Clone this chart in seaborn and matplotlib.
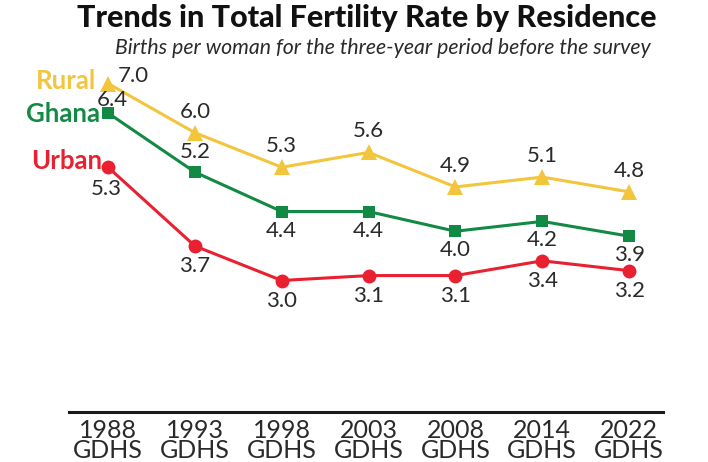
"""Trends in total fertility rate by residence."""

import matplotlib
matplotlib.use('Agg')
import matplotlib.pyplot as plt
import seaborn as sns
import numpy as np
import pandas as pd

surveys = ['1988\nGDHS', '1993\nGDHS', '1998\nGDHS', '2003\nGDHS',
           '2008\nGDHS', '2014\nGDHS', '2022\nGDHS']
rural = [7.0, 6.0, 5.3, 5.6, 4.9, 5.1, 4.8]
ghana = [6.4, 5.2, 4.4, 4.4, 4.0, 4.2, 3.9]
urban = [5.3, 3.7, 3.0, 3.1, 3.1, 3.4, 3.2]

series_names = ['Rural', 'Ghana', 'Urban']
series_values = [rural, ghana, urban]

COLORS = {'Rural': '#F2C53D', 'Ghana': '#138A43', 'Urban': '#E8202F'}
MARKERS = {'Rural': '^', 'Ghana': 's', 'Urban': 'o'}
MSIZE = {'Rural': 11, 'Ghana': 9, 'Urban': 10}
TEXT = '#2A2A2A'

rows = []
for name, vals in zip(series_names, series_values):
    for i, v in enumerate(vals):
        rows.append({'pos': i, 'survey': surveys[i], 'tfr': v, 'series': name})
df = pd.DataFrame(rows)

sns.set_style('white')
plt.rcParams['font.family'] = ['Lato', 'DejaVu Sans']

fig = plt.figure(figsize=(7.08, 4.62), dpi=100)
ax = fig.add_axes([69 / 708, 1 - 412 / 462, (663 - 69) / 708, (412 - 60) / 462])

sns.lineplot(data=df, x='pos', y='tfr', hue='series', style='series',
             hue_order=series_names, palette=COLORS, markers=MARKERS,
             dashes=False, linewidth=2.2, markeredgewidth=0, ax=ax,
             legend=False)
for line, name in zip(ax.lines, series_names):
    line.set_markersize(MSIZE[name])

ax.set_xlim(-0.45, 6.39)
ax.set_ylim(0.33, 0.33 + 352 / 49.25)
ax.set_xticks(range(len(surveys)))
ax.set_xticklabels(surveys, fontsize=18, color=TEXT, linespacing=0.82)
ax.tick_params(axis='x', length=0, pad=5)
ax.set_yticks([])
ax.set_xlabel('')
ax.set_ylabel('')
for side in ['top', 'left', 'right']:
    ax.spines[side].set_visible(False)
ax.spines['bottom'].set_color('#1A1A1A')
ax.spines['bottom'].set_linewidth(2.2)

# value labels: offsets in pixels
offsets = {
    'Rural': [(25, 8)] + [(0, 21)] * 6,
    'Ghana': [(4, 13), (0, 20)] + [(0, -19)] * 5,
    'Urban': [(-2, -22)] + [(0, -20)] * 6,
}
for name, vals in zip(series_names, series_values):
    for i, v in enumerate(vals):
        dx, dy = offsets[name][i]
        ax.annotate(f'{v:.1f}', (i, v), xytext=(dx, dy),
                    textcoords='offset pixels', ha='center', va='center',
                    fontsize=16, color=TEXT)

# series names at the start of each line
name_off = {'Rural': (-12, 3), 'Ghana': (-8, -1), 'Urban': (-6, 6)}
for name, vals in zip(series_names, series_values):
    ax.annotate(name, (0, vals[0]), xytext=name_off[name],
                textcoords='offset pixels', ha='right', va='center',
                fontsize=18.5, fontweight='bold', color=COLORS[name])

fig.text(367 / 708, 1 - 18 / 462, 'Trends in Total Fertility Rate by Residence',
         ha='center', va='center', fontsize=22, fontweight='black', color='#111111')
fig.text(651 / 708, 1 - 48 / 462,
         'Births per woman for the three-year period before the survey',
         ha='right', va='center', fontsize=15.3, style='italic', color=TEXT)

fig.savefig('out.png', dpi=100)
